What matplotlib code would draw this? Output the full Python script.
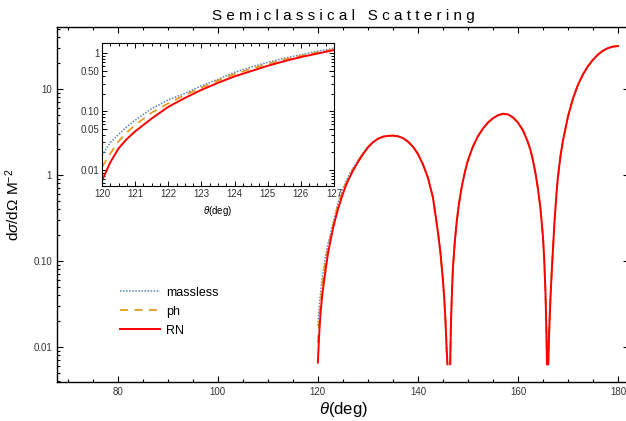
import numpy as np
import matplotlib
matplotlib.use("Agg")
import matplotlib.pyplot as plt
from matplotlib.ticker import FixedLocator, NullFormatter, LogLocator, MultipleLocator

plt.rcParams['font.family'] = ['Liberation Sans', 'DejaVu Sans']
plt.rcParams['mathtext.fontset'] = 'custom'
plt.rcParams['mathtext.rm'] = 'Liberation Sans'
plt.rcParams['mathtext.it'] = 'Liberation Sans:italic'

# scattering angle samples (deg), one list per lobe
theta_1 = [120.0, 120.25, 120.5, 120.75, 121.0, 121.5, 122.0, 122.5, 123.0, 123.5,
           124.0, 124.5, 125.0, 125.5, 126.0, 126.5, 127.0, 128.0, 129.0, 130.0,
           131.0, 132.0, 133.0, 134.0, 135.0, 136.0, 137.0, 138.0, 139.0, 140.0,
           141.0, 142.0, 143.0, 143.5, 144.0, 144.5, 145.0, 145.25, 145.5, 145.75, 145.9]
theta_2 = [146.45, 146.6, 146.8, 147.0, 147.4, 147.8, 148.2, 148.6, 149.0, 149.5,
           150.0, 151.0, 152.0, 153.0, 154.0, 155.0, 156.0, 157.0, 158.0, 159.0,
           160.0, 161.0, 162.0, 162.5, 163.0, 163.5, 164.0, 164.5, 165.0, 165.25,
           165.5, 165.7, 165.8]
theta_3 = [166.05, 166.2, 166.35, 166.5, 166.75, 167.0, 167.3, 167.7, 168.0, 168.5,
           169.0, 170.0, 171.0, 172.0, 173.0, 174.0, 175.0, 176.0, 177.0, 178.0,
           179.0, 180.0]

# d sigma / d Omega  (M^-2)
rn_1 = [0.0066, 0.0135, 0.0234, 0.0339, 0.0457, 0.0759, 0.120, 0.170, 0.234, 0.309,
        0.398, 0.490, 0.603, 0.724, 0.851, 0.977, 1.12, 1.41, 1.74, 2.09,
        2.40, 2.63, 2.79, 2.85, 2.87, 2.82, 2.69, 2.45, 2.14, 1.76,
        1.33, 0.933, 0.550, 0.347, 0.219, 0.126, 0.0603, 0.0380, 0.0209, 0.0093, 0.0063]
massless_1 = [0.0178, 0.0295, 0.0407, 0.0550, 0.0708, 0.112, 0.158, 0.204, 0.275, 0.355,
              0.468, 0.575, 0.692, 0.813, 0.933, 1.07, 1.20, 1.48, 1.80, 2.14,
              2.43, 2.65, 2.80, 2.86, 2.87, 2.82, 2.69, 2.45, 2.14, 1.76,
              1.33, 0.933, 0.550, 0.347, 0.219, 0.126, 0.0603, 0.0380, 0.0209, 0.0093, 0.0063]
ph_1 = [0.0112, 0.0191, 0.0309, 0.0437, 0.0589, 0.0955, 0.138, 0.191, 0.257, 0.339,
        0.437, 0.537, 0.646, 0.776, 0.891, 1.02, 1.15, 1.45, 1.76, 2.11,
        2.40, 2.64, 2.79, 2.85, 2.87, 2.82, 2.69, 2.45, 2.14, 1.76,
        1.33, 0.933, 0.550, 0.347, 0.219, 0.126, 0.0603, 0.0380, 0.0209, 0.0093, 0.0063]

rn_2 = [0.0063, 0.0182, 0.0427, 0.0832, 0.174, 0.302, 0.457, 0.646, 0.851, 1.15,
        1.48, 2.14, 2.82, 3.47, 4.07, 4.57, 4.95, 5.16, 5.07, 4.68,
        4.07, 3.31, 2.40, 1.95, 1.48, 1.05, 0.692, 0.407, 0.191, 0.105,
        0.0437, 0.0141, 0.0063]
rn_3 = [0.0063, 0.0126, 0.0224, 0.0372, 0.0741, 0.138, 0.282, 0.603, 0.955, 1.66,
        2.51, 4.79, 7.76, 11.2, 14.8, 18.4, 21.9, 25.1, 27.9, 29.9,
        31.1, 31.6]
massless_2, ph_2 = rn_2, rn_2
massless_3, ph_3 = rn_3, rn_3

series = [
    ("massless", [massless_1, massless_2, massless_3], '#5E81B5', (0, (1.0, 1.0)), 1.1),
    ("ph", [ph_1, ph_2, ph_3], '#E19C24', (0, (4.5, 3.5)), 1.3),
    ("RN", [rn_1, rn_2, rn_3], '#FF0000', '-', 1.4),
]

theta_all = theta_1 + [np.nan] + theta_2 + [np.nan] + theta_3

fig = plt.figure(figsize=(6.26, 4.21), dpi=100)
ax = fig.add_axes([57/626, 39/421, 572/626, 355/421])

for name, parts, col, ls, lw in series:
    vals = parts[0] + [np.nan] + parts[1] + [np.nan] + parts[2]
    ax.plot(theta_all, vals, color=col, ls=ls, lw=lw, label=name)

ax.set_yscale('log')
ax.set_xlim(67.85, 182.2)
ax.set_ylim(0.00392, 52.6)
ax.xaxis.set_major_locator(FixedLocator([80, 100, 120, 140, 160, 180]))
ax.xaxis.set_minor_locator(MultipleLocator(5))
ax.yaxis.set_major_locator(FixedLocator([0.01, 0.1, 1, 10]))
ax.yaxis.set_minor_locator(LogLocator(base=10, subs=np.arange(2, 10)))
ax.yaxis.set_minor_formatter(NullFormatter())
ax.set_yticklabels(['0.01', '0.10', '1', '10'])
ax.tick_params(which='both', direction='in', top=True, right=True, labelsize=7,
               labelcolor='#333333', width=0.8)
ax.tick_params(which='major', length=4)
ax.tick_params(which='minor', length=2.2)
for s in ax.spines.values():
    s.set_linewidth(1.0)

ax.set_xlabel(r'$\theta$(deg)', fontsize=12, labelpad=2)
ax.set_ylabel(r'd$\sigma$/d$\Omega$ M$^{-2}$', fontsize=11, labelpad=8)
ax.set_title('S e m i c l a s s i c a l   S c a t t e r i n g', fontsize=11, pad=5)

leg = ax.legend(loc='upper left', bbox_to_anchor=(0.09, 0.3), frameon=False,
                fontsize=9, handlelength=3.2, handletextpad=0.5, labelspacing=0.55)

# inset zoom of the first lobe
ins = fig.add_axes([102/626, 235/421, 232/626, 143/421])
for name, parts, col, ls, lw in series:
    ins.plot(theta_1, parts[0], color=col, ls=ls, lw=lw)
ins.set_yscale('log')
ins.set_xlim(120, 127)
ins.set_ylim(0.00533, 1.48)
ins.xaxis.set_major_locator(MultipleLocator(1))
ins.xaxis.set_minor_locator(MultipleLocator(0.25))
ins.yaxis.set_major_locator(FixedLocator([0.01, 0.05, 0.1, 0.5, 1]))
ins.yaxis.set_minor_locator(LogLocator(base=10, subs=np.arange(2, 10)))
ins.yaxis.set_minor_formatter(NullFormatter())
ins.set_yticklabels(['0.01', '0.05', '0.10', '0.50', '1'])
ins.tick_params(which='both', direction='in', top=True, right=True, labelsize=7,
                labelcolor='#333333', width=0.7, pad=2)
ins.tick_params(which='major', length=3.5)
ins.tick_params(which='minor', length=2)
ins.set_xlabel(r'$\theta$(deg)', fontsize=7, labelpad=4)

fig.savefig('out.png', dpi=100)
